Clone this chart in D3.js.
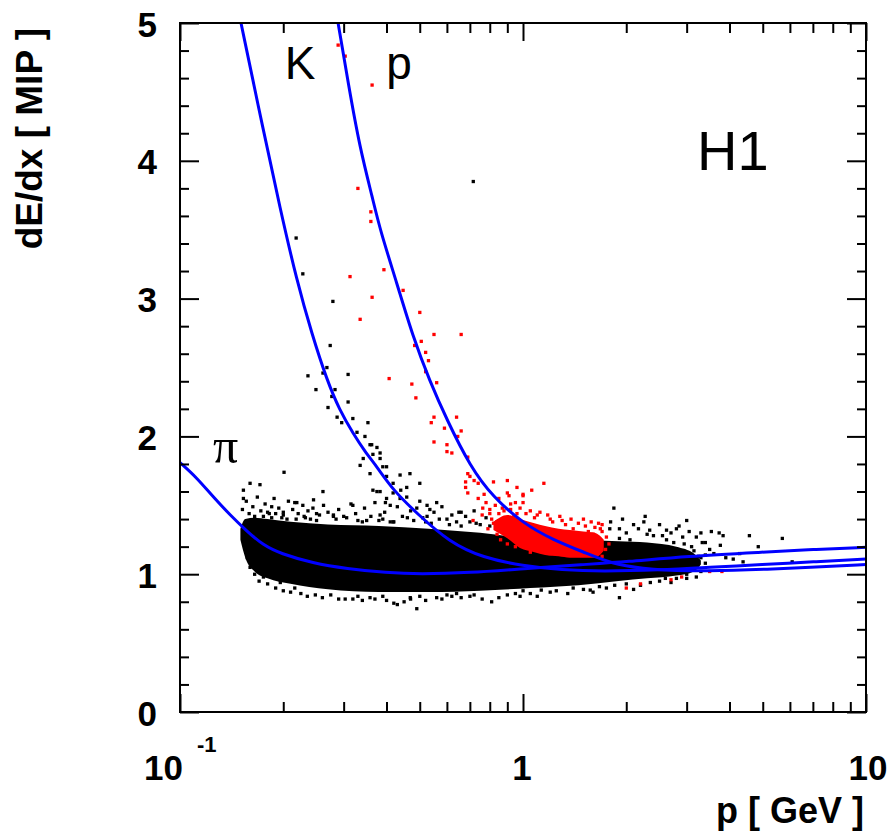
<!DOCTYPE html>
<html><head><meta charset="utf-8">
<script src="https://cdn.jsdelivr.net/npm/d3@7"></script>
<style>body{margin:0;background:#fff}</style>
</head><body>
<svg id="c" width="890" height="834"></svg>
<script>
// ---- data (p in GeV, dE/dx in MIP) ----
const xMajorTicks = [0.1, 1, 10];
const xMinorTicks = [0.2,0.3,0.4,0.5,0.6,0.7,0.8,0.9,2,3,4,5,6,7,8,9];
const yMajorTicks = [0,1,2,3,4,5];
const yMinorTicks = [0.2,0.4,0.6,0.8,1.2,1.4,1.6,1.8,2.2,2.4,2.6,2.8,3.2,3.4,3.6,3.8,4.2,4.4,4.6,4.8];
const yTickLabels = ["0","1","2","3","4","5"];
const xTickLabels = [{b:"10",e:"-1"},{b:"1",e:""},{b:"10",e:""}];

const piCurve = [[0.1,1.81],[0.112,1.70],[0.125,1.56],[0.14,1.43],[0.157,1.31],[0.175,1.21],[0.196,1.15],[0.244,1.08],[0.306,1.04],[0.4,1.01],[0.5,1.0],[0.7,1.01],[1.0,1.04],[1.5,1.07],[2,1.09],[3,1.13],[5,1.16],[7,1.18],[10,1.195]];
const kaonCurve = [[0.1506,5.0],[0.175,4.22],[0.1956,3.66],[0.219,3.13],[0.2426,2.74],[0.268,2.41],[0.292,2.19],[0.320,2.02],[0.346,1.89],[0.375,1.78],[0.418,1.61],[0.491,1.44],[0.612,1.23],[0.763,1.12],[1.0,1.06],[1.3,1.03],[1.7,1.02],[2.5,1.03],[3.5,1.05],[5,1.07],[7,1.09],[10,1.11]];
const protonCurve = [[0.289,5.0],[0.31,4.55],[0.334,4.10],[0.365,3.72],[0.383,3.50],[0.429,3.11],[0.478,2.72],[0.535,2.40],[0.60,2.12],[0.702,1.78],[0.817,1.56],[1.0,1.37],[1.22,1.25],[1.54,1.15],[1.8,1.08],[2.2,1.04],[3,1.02],[4.5,1.03],[7,1.05],[10,1.07]];

// dense core of the black (pion) band
const bandP  = [0.15,0.155,0.165,0.18,0.21,0.27,0.38,0.53,0.75,1.05,1.45,1.9,2.3,2.8,3.15,3.3];
const bandHi = [1.33,1.40,1.41,1.40,1.38,1.36,1.35,1.33,1.30,1.26,1.25,1.24,1.23,1.20,1.15,1.10];
const bandLo = [1.25,1.12,1.02,0.97,0.93,0.89,0.87,0.87,0.88,0.90,0.92,0.95,0.97,0.99,1.02,1.07];

// dense core of the red (proton) band
const redBandP  = [0.82,0.9,0.98,1.08,1.16,1.27,1.37,1.5,1.62,1.72];
const redBandHi = [1.38,1.43,1.40,1.37,1.35,1.33,1.32,1.31,1.30,1.25];
const redBandLo = [1.32,1.26,1.19,1.16,1.14,1.13,1.12,1.12,1.12,1.17];

const blackPoints = [
[0.716,3.85],[0.218,3.44],[0.228,3.18],[0.279,2.98],[0.274,2.66],[0.268,2.50],[0.236,2.44],[0.309,2.45],[0.261,2.46],[0.249,2.34],[0.277,2.29],[0.283,2.34],[0.270,2.21],[0.309,2.25],[0.287,2.14],[0.296,2.10],[0.319,2.13],[0.353,2.10],[0.328,2.03],[0.346,2.00],[0.362,1.94],[0.375,1.92],[0.365,1.87],[0.383,1.84],[0.400,1.78],[0.335,1.79],
[0.358,1.94],[0.383,1.88],[0.342,1.84],[0.390,1.78],[0.358,1.73],[0.400,1.71],[0.438,1.72],[0.468,1.73],[0.418,1.66],[0.440,1.61],[0.500,1.66],[0.365,1.61],[0.418,1.59],[0.458,1.63],[0.383,1.60],[0.400,1.55],[0.410,1.50],[0.438,1.55],[0.458,1.56],[0.525,1.50],[0.560,1.52],[0.490,1.48],[0.650,1.45],[0.535,1.47],[0.525,1.42],[0.660,1.45],[0.375,1.60],[0.397,1.52],
[0.201,1.74],[0.261,1.60],[0.160,1.66],[0.171,1.65],[0.153,1.61],[0.153,1.55],[0.319,1.50],[0.219,1.52],[0.180,1.45],[0.185,1.49],[0.244,1.48],[0.216,1.52],[0.280,1.43],[0.306,1.41],[0.340,1.38],[0.383,1.43],[0.418,1.38],
[0.35,1.39],[0.39,1.40],[0.41,1.38],[0.46,1.41],[0.48,1.39],[0.52,1.38],[0.60,1.40],[0.70,1.38],[0.75,1.36],[0.80,1.35],[0.28,1.42],[0.25,1.44],[0.23,1.42],[0.20,1.45],[0.19,1.44],
[0.152,1.47],[0.156,1.53],[0.159,1.44],[0.163,1.49],[0.168,1.56],[0.172,1.46],[0.177,1.51],[0.182,1.44],[0.188,1.55],[0.194,1.48],[0.2,1.43],[0.207,1.53],[0.213,1.47],[0.221,1.44],[0.228,1.50],[0.236,1.46],[0.245,1.54],[0.255,1.43],[0.262,1.50],[0.27,1.45],[0.29,1.47],[0.3,1.42],[0.315,1.51],[0.325,1.44],[0.345,1.48],[0.36,1.42],[0.37,1.52],[0.395,1.45],[0.43,1.49],[0.445,1.42],[0.47,1.46],[0.5,1.53],[0.51,1.41],[0.55,1.45],[0.57,1.40],[0.58,1.49],[0.62,1.43],[0.64,1.38],[0.68,1.42],[0.72,1.46],[0.73,1.37],[0.78,1.41],[0.84,1.38],[0.88,1.33],
[0.165,1.42],[0.175,1.42],[0.185,1.41],[0.198,1.41],[0.205,1.40],[0.218,1.40],[0.232,1.41],[0.24,1.40],[0.25,1.39],[0.285,1.40],[0.33,1.39],[0.38,1.39],[0.42,1.38],[0.54,1.37],[0.61,1.36],[0.66,1.35],
[1.8,1.38],[1.95,1.40],[2.1,1.36],[2.25,1.38],[2.5,1.36],[2.7,1.30],[2.85,1.35],[3.05,1.31],[3.2,1.27],[3.3,1.30],[2.0,1.30],[2.3,1.29],[2.55,1.28],[2.75,1.23],[2.95,1.22],[3.15,1.17],[3.25,1.13],[3.4,1.14],[3.3,1.02],[3.1,1.03],[2.9,1.04],
[0.157,1.12],[0.162,1.08],[0.175,0.98],[0.196,0.94],[0.216,0.90],[0.248,0.85],[0.303,0.82],[0.319,0.82],[0.358,0.83],[0.43,0.78],[0.49,0.75],[0.81,0.80],[0.469,0.83],[0.56,0.83],[0.64,0.86],[0.42,0.79],
[0.16,1.05],[0.165,1.0],[0.17,0.95],[0.18,0.93],[0.19,0.9],[0.2,0.88],[0.21,0.87],[0.225,0.86],[0.235,0.84],[0.26,0.83],[0.275,0.85],[0.29,0.82],[0.33,0.84],[0.34,0.81],[0.37,0.82],[0.39,0.84],[0.4,0.81],[0.45,0.80],[0.47,0.82],[0.5,0.84],[0.52,0.81],[0.58,0.82],[0.62,0.84],[0.66,0.83],[0.72,0.85],[0.76,0.82],[0.85,0.83],[0.9,0.85],[0.98,0.84],[1.05,0.86],[1.1,0.84],[1.25,0.88],[1.35,0.86],[1.5,0.89],[1.6,0.87],[1.75,0.9],[1.85,0.92],[2.0,0.93],[2.1,0.89],[2.35,0.94],[2.6,0.97],[2.7,0.94],[3.0,0.97],
[1.0,0.88],[1.2,0.87],[1.4,0.90],[2.2,0.92],[2.5,0.95],[2.8,0.97],[0.95,0.86],[0.7,0.84],[0.6,0.85],
[1.84,1.48],[2.27,1.42],[3.0,1.39],[2.17,1.33],[1.79,1.33],[1.91,1.33],[2.34,1.32],[2.62,1.32],[2.80,1.33],[2.92,1.27],[1.91,1.26],[2.05,1.25],[2.4,1.28],[2.62,1.25],[1.91,0.83],[1.57,0.885],[1.67,0.91],[1.29,0.94],[1.13,0.885],
[3.54,1.31],[3.73,1.30],[3.83,1.28],[4.57,1.28],[5.7,1.26],[4.85,1.20],[3.33,1.23],[3.4,1.23],[3.76,1.21],[4.28,1.15],[4.38,1.09],[6.09,1.09],[3.6,1.15],[3.9,1.12],[4.1,1.11],
[3.2,1.05],[3.4,1.08],[3.3,1.12],[3.5,1.18],[3.1,1.20],[3.0,1.0],[3.2,0.98]
];

const redPoints = [
[0.289,4.84],[0.303,4.76],[0.363,4.55],[0.33,3.80],[0.36,3.63],[0.36,3.56],[0.393,3.21],[0.313,3.16],[0.363,3.01],[0.447,3.06],[0.335,2.85],[0.50,2.90],[0.55,2.74],[0.66,2.74],[0.505,2.69],[0.483,2.66],[0.52,2.61],[0.53,2.55],[0.52,2.47],[0.407,2.42],[0.56,2.39],[0.474,2.38],[0.487,2.28],[0.55,2.14],[0.64,2.14],[0.54,2.10],[0.59,2.06],[0.66,2.04],[0.645,2.0],[0.55,1.96],[0.60,1.94],[0.60,1.89],[0.62,1.88],[0.69,1.85],
[0.69,1.73],[0.70,1.71],[0.68,1.67],[0.72,1.68],[0.74,1.66],[0.82,1.67],[0.90,1.68],[0.96,1.63],[1.0,1.58],[0.68,1.63],[0.69,1.59],[0.90,1.59],[0.763,1.48],[0.80,1.44],[0.82,1.37],[0.87,1.48],[0.92,1.51],[0.96,1.44],[0.715,1.39],
[1.15,1.66],[1.06,1.61],[1.0,1.57],[0.91,1.57],[1.02,1.44],[1.1,1.43],[1.2,1.40],[1.3,1.39],[1.5,1.40],[1.66,1.37],[1.7,1.36],[1.4,1.33],[1.25,1.31],[1.55,1.31],[1.6,1.29],[1.68,1.33],
[0.78,1.52],[0.8,1.47],[0.83,1.50],[0.85,1.44],[0.88,1.46],[0.92,1.47],[0.94,1.42],[0.98,1.48],[1.05,1.46],[1.08,1.41],[1.12,1.45],[1.18,1.43],[1.22,1.38],[1.28,1.42],[1.33,1.36],[1.38,1.40],[1.45,1.37],[1.52,1.35],[1.58,1.38],[1.62,1.34],[1.7,1.31],[1.75,1.27],[1.78,1.22],[1.74,1.18],[0.84,1.29],[0.86,1.25],[0.9,1.22],[0.95,1.20],[0.79,1.33],[0.81,1.40],[0.76,1.43],[0.74,1.55],[0.77,1.58],[0.85,1.55],[0.95,1.52],[1.0,1.52],[1.4,1.20],[1.55,1.16],[1.7,1.13],[1.2,1.15],[1.05,1.16],
[2.7,0.96],[2.9,0.98],[3.5,1.02],[3.8,1.02],[2.2,0.93],[2.0,0.90]
];

const curveLabels = [{t:"K",p:0.202,v:4.59,serif:false},{t:"p",p:0.399,v:4.59,serif:false},{t:"π",p:0.1248,v:1.81,serif:true}];
const experimentLabel = "H1";
const xTitle = "p [ GeV ]";
const yTitle = "dE/dx [ MIP ]";

// ---- drawing ----
const svg = d3.select("#c");
const L=180, R=866, T=23, B=712;
const x = d3.scaleLog().domain([0.1,10]).range([L,R]);
const y = d3.scaleLinear().domain([0,5]).range([B,T]);
const SANS = "'Liberation Sans', Arial, Helvetica, sans-serif";

svg.append("defs").append("clipPath").attr("id","clip")
  .append("rect").attr("x",L).attr("y",T).attr("width",R-L).attr("height",B-T);
const plot = svg.append("g").attr("clip-path","url(#clip)");

// black core band
const bandData = bandP.map((p,i)=>({p, lo:bandLo[i], hi:bandHi[i]}));
plot.append("path").datum(bandData)
  .attr("d", d3.area().x(d=>x(d.p)).y0(d=>y(d.lo)).y1(d=>y(d.hi)).curve(d3.curveMonotoneX))
  .attr("fill","#000");
plot.append("g").selectAll("rect").data(blackPoints).join("rect")
  .attr("x",d=>x(d[0])-1.6).attr("y",d=>y(d[1])-1.6).attr("width",3.3).attr("height",3.3).attr("fill","#000");

// red core band
const redData = redBandP.map((p,i)=>({p, lo:redBandLo[i], hi:redBandHi[i]}));
plot.append("path").datum(redData)
  .attr("d", d3.area().x(d=>x(d.p)).y0(d=>y(d.lo)).y1(d=>y(d.hi)).curve(d3.curveMonotoneX))
  .attr("fill","#ff0000");
plot.append("g").selectAll("rect").data(redPoints).join("rect")
  .attr("x",d=>x(d[0])-1.6).attr("y",d=>y(d[1])-1.6).attr("width",3.3).attr("height",3.3).attr("fill","#ff0000");

// curves
const line = d3.line().x(d=>x(d[0])).y(d=>y(d[1])).curve(d3.curveBasis);
[piCurve,kaonCurve,protonCurve].forEach(c=>{
  plot.append("path").datum(c).attr("d",line).attr("fill","none")
    .attr("stroke","#0000ff").attr("stroke-width",3);
});

// axes (ticks inside on all sides)
function ax(gen, tx, ty){
  const g = svg.append("g").attr("transform",`translate(${tx},${ty})`).call(gen);
  g.select(".domain").remove();
  g.selectAll("text").remove();
  g.selectAll("line").attr("stroke","#000").attr("stroke-width",2);
  return g;
}
ax(d3.axisBottom(x).tickValues(xMajorTicks).tickSize(-18).tickFormat(""),0,B);
ax(d3.axisBottom(x).tickValues(xMinorTicks).tickSize(-10).tickFormat(""),0,B);
ax(d3.axisTop(x).tickValues(xMajorTicks).tickSize(-18).tickFormat(""),0,T);
ax(d3.axisTop(x).tickValues(xMinorTicks).tickSize(-10).tickFormat(""),0,T);
ax(d3.axisLeft(y).tickValues(yMajorTicks).tickSize(-19).tickFormat(""),L,0);
ax(d3.axisLeft(y).tickValues(yMinorTicks).tickSize(-9).tickFormat(""),L,0);
ax(d3.axisRight(y).tickValues(yMajorTicks).tickSize(-19).tickFormat(""),R,0);
ax(d3.axisRight(y).tickValues(yMinorTicks).tickSize(-9).tickFormat(""),R,0);

svg.append("rect").attr("x",L).attr("y",T).attr("width",R-L).attr("height",B-T)
  .attr("fill","none").attr("stroke","#000").attr("stroke-width",2);

// y tick labels
svg.append("g").selectAll("text").data(yMajorTicks).join("text")
  .attr("x",157).attr("y",d=>y(d)+13.5).attr("text-anchor","end")
  .attr("font-family",SANS).attr("font-weight","bold").attr("font-size",35)
  .text((d,i)=>yTickLabels[i]);

// x tick labels
const xl = svg.append("g");
xMajorTicks.forEach((v,i)=>{
  const lab = xTickLabels[i];
  const t = xl.append("text").attr("y",780)
    .attr("font-family",SANS).attr("font-weight","bold").attr("font-size",35);
  if (lab.e) {
    t.attr("x",x(v)-36).attr("text-anchor","start");
    t.append("tspan").text(lab.b);
    t.append("tspan").attr("font-size",22).attr("dy",-28).attr("dx",14).text(lab.e);
  } else {
    t.attr("x", i===2 ? x(v)+2 : x(v)-1).attr("text-anchor","middle").text(lab.b);
  }
});

// axis titles
svg.append("text").attr("x",864).attr("y",823).attr("text-anchor","end")
  .attr("font-family",SANS).attr("font-weight","bold").attr("font-size",36).text(xTitle);
svg.append("text").attr("transform","translate(42,28) rotate(-90)").attr("text-anchor","end")
  .attr("font-family",SANS).attr("font-weight","bold").attr("font-size",37).text(yTitle);

// curve labels
curveLabels.forEach(l=>{
  svg.append("text").attr("x",x(l.p)).attr("y",y(l.v))
    .attr("font-family", l.serif ? "'Liberation Serif', 'DejaVu Serif', serif" : SANS)
    .attr("font-size", l.serif ? 50 : 46).text(l.t);
});
svg.append("text").attr("x",697).attr("y",170)
  .attr("font-family",SANS).attr("font-size",56).text(experimentLabel);
</script>
</body></html>
